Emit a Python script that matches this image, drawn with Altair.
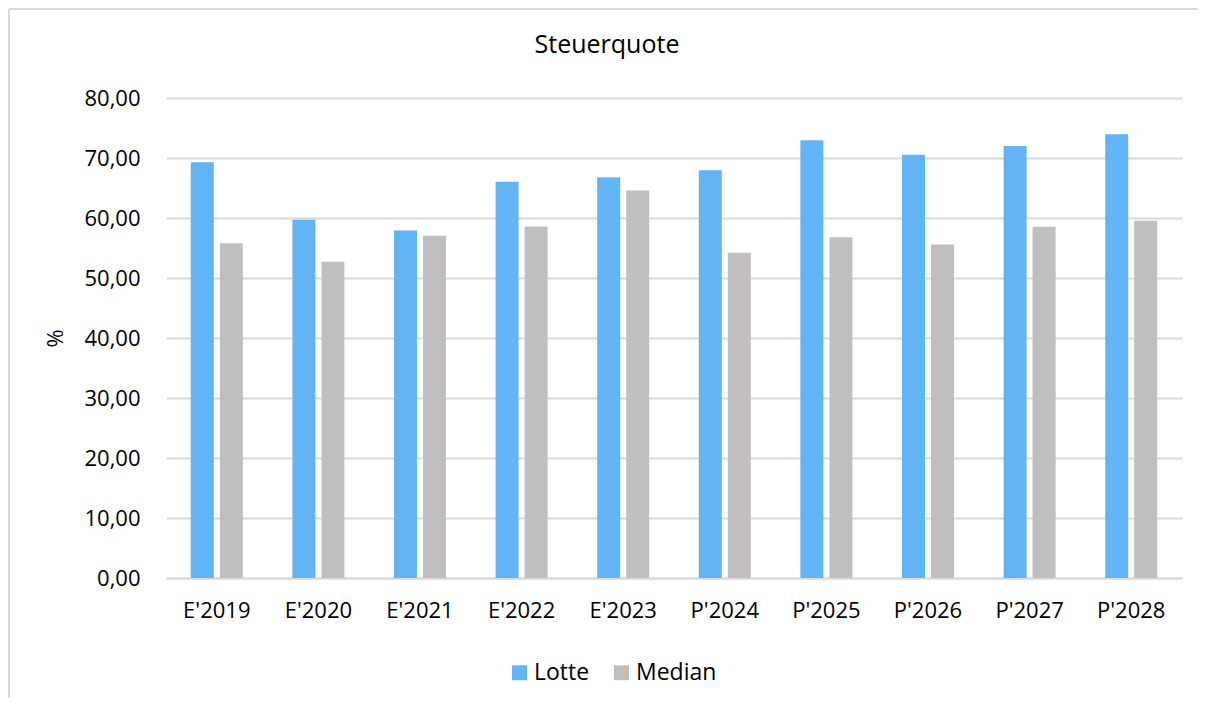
import altair as alt
import pandas as pd

categories = ["E'2019", "E'2020", "E'2021", "E'2022", "E'2023",
              "P'2024", "P'2025", "P'2026", "P'2027", "P'2028"]
lotte = [69.3, 59.7, 57.9, 66.05, 66.8, 67.95, 72.95, 70.55, 72.0, 73.95]
median = [55.8, 52.7, 57.05, 58.6, 64.6, 54.2, 56.8, 55.6, 58.55, 59.55]
series = ["Lotte", "Median"]
colors = ["#63B4F5", "#BFBFBF"]
y_ticks = [0, 10, 20, 30, 40, 50, 60, 70, 80]
title_text = "Steuerquote"

rows = []
for c, l, m in zip(categories, lotte, median):
    rows.append({"Jahr": c, "Serie": "Lotte", "Wert": l})
    rows.append({"Jahr": c, "Serie": "Median", "Wert": m})
df = pd.DataFrame(rows)

FONT = "Open Sans"
W, H = 1016, 480

bars = alt.Chart(df).mark_bar().encode(
    x=alt.X("Jahr:N", sort=categories,
            scale=alt.Scale(paddingInner=0.488, paddingOuter=0.244),
            axis=alt.Axis(title=None, labelAngle=0, ticks=False, grid=False,
                          domain=True, domainColor="#D9D9D9", domainWidth=2,
                          labelPadding=22, labelFontSize=22, labelFont=FONT,
                          labelColor="#000000")),
    xOffset=alt.XOffset("Serie:N", sort=series,
                        scale=alt.Scale(paddingInner=0.207, paddingOuter=0)),
    y=alt.Y("Wert:Q", scale=alt.Scale(domain=[0, 80], nice=False),
            axis=alt.Axis(values=y_ticks, title="%", domain=False, ticks=False,
                          grid=True, gridColor="#D9D9D9", gridWidth=2,
                          labelExpr="replace(format(datum.value, '.2f'), '.', ',')",
                          labelPadding=26, labelFontSize=22, labelFont=FONT,
                          labelColor="#000000",
                          titleFont=FONT, titleFontSize=22, titleFontWeight="normal",
                          titleColor="#000000", titleX=-111, titleY=240,
                          titleBaseline="middle", titleAngle=-90)),
    color=alt.Color("Serie:N", sort=series,
                    scale=alt.Scale(domain=series, range=colors),
                    legend=alt.Legend(title=None, orient="none", direction="horizontal",
                                      legendX=342, legendY=563,
                                      symbolType="square", symbolSize=225,
                                      symbolStrokeWidth=0, labelFontSize=23,
                                      labelFont=FONT, labelColor="#000000",
                                      labelOffset=3, columnPadding=20, padding=0)),
)

one = pd.DataFrame({"a": [0]})
left_border = alt.Chart(one).mark_rule(color="#D9D9D9", strokeWidth=2).encode(
    x=alt.value(-157), y=alt.value(-89), y2=alt.value(640))
top_border = alt.Chart(one).mark_rule(color="#D9D9D9", strokeWidth=2).encode(
    x=alt.value(-157), x2=alt.value(1080), y=alt.value(-89))
title = alt.Chart(one).mark_text(text=title_text, font=FONT, fontSize=25,
                                 color="#000000", align="center",
                                 baseline="middle").encode(
    x=alt.value(441), y=alt.value(-53))

chart = alt.layer(bars, left_border, top_border, title).properties(
    width=W, height=H,
    autosize=alt.AutoSizeParams(type="none"),
    padding={"left": 158, "top": 90, "right": 16, "bottom": 120},
).configure_view(stroke=None).configure_axis(labelOverlap=False)

chart.save("out.html", embed_options={"renderer": "svg", "actions": False})
